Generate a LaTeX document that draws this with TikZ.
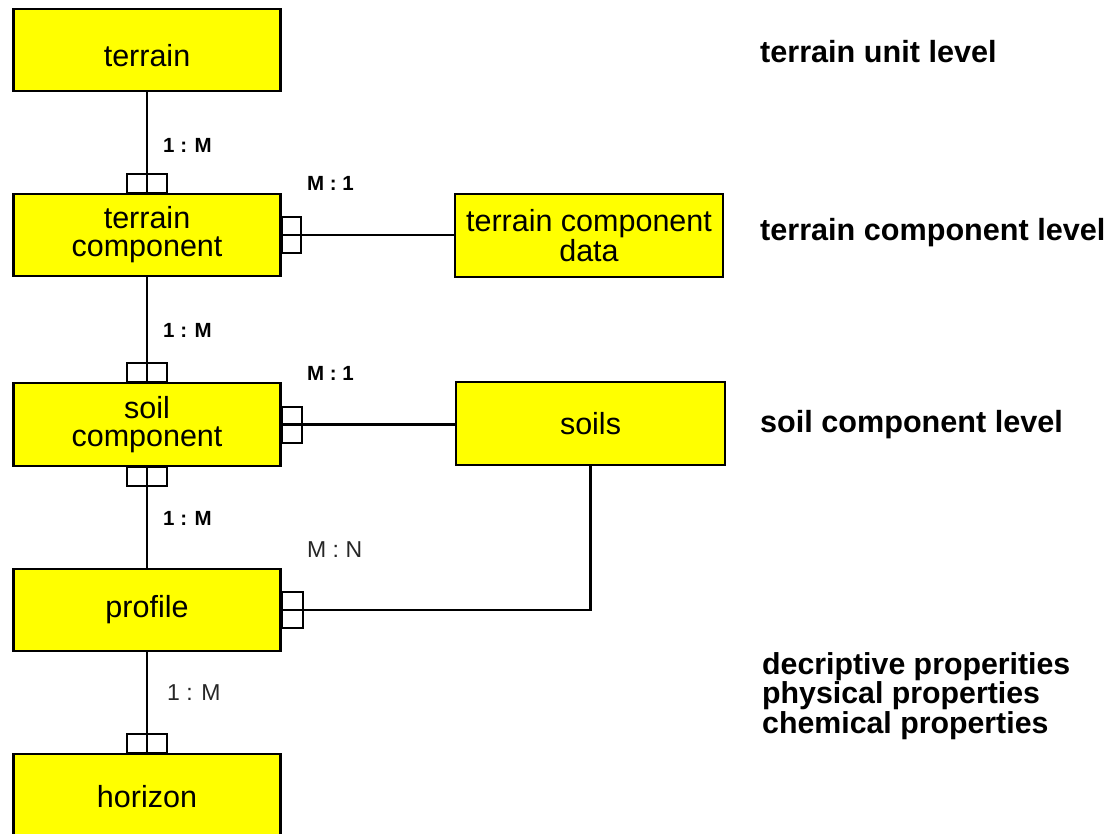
\documentclass[tikz,border=0pt]{standalone}
\usepackage{fontspec}
\setmainfont{Liberation Sans}
\definecolor{entityfill}{RGB}{255,255,0}
\begin{document}
\begin{tikzpicture}[x=1pt,y=-1pt,
  entity/.style={draw=black, line width=2.6pt, fill=entityfill, inner sep=0pt,
    minimum width=267pt, minimum height=82pt, align=center,
    font=\fontsize{30.5}{28}\selectfont},
  link/.style={draw=black, line width=2.2pt},
  foot/.style={draw=black, line width=2pt},
  card/.style={inner sep=0pt, anchor=west, font=\bfseries\fontsize{20.5}{22}\selectfont},
  cardplain/.style={inner sep=0pt, anchor=west, font=\fontsize{23}{24}\selectfont, text=black!85},
  level/.style={inner sep=0pt, anchor=west, align=left, font=\bfseries\fontsize{30.6}{27.3}\selectfont}]
\useasboundingbox (0,0) rectangle (1113,834);

% entities
\node[entity, text height=34pt] (terrain) at (147,50) {terrain};
\node[entity] (tcomp)   at (147,235) {terrain\\component};
\node[entity, minimum width=268pt, minimum height=83pt] (tcdata) at (589,235.5) {terrain component\\data};
\node[entity, minimum height=83pt] (scomp) at (147,424.5) {soil\\component};
\node[entity, minimum width=269pt, minimum height=83pt] (soils) at (590.5,423.5) {soils};
\node[entity] (profile) at (147,610) {profile};
\node[entity, minimum height=86pt] (horizon) at (147,797) {horizon};

% relationship lines
\draw[link] (terrain.south) -- (tcomp.north);
\draw[link] (tcomp.south) -- (scomp.north);
\draw[link] (scomp.south) -- (profile.north);
\draw[link] (profile.south) -- (horizon.north);
\draw[link] (tcomp.east) -- (tcomp.east -| tcdata.west);
\draw[link] (scomp.east) -- (scomp.east -| soils.west);
\draw[link] (profile.east) -- (profile.east -| soils.south) -- (soils.south);

% "many" end markers
\draw[foot] ([xshift=-20pt]tcomp.north) rectangle ([xshift=20pt,yshift=19pt]tcomp.north);
\draw[foot] ([xshift=-20pt]scomp.north) rectangle ([xshift=20pt,yshift=19pt]scomp.north);
\draw[foot] ([xshift=-20pt]scomp.south) rectangle ([xshift=20pt,yshift=-19pt]scomp.south);
\draw[foot] ([xshift=-20pt]horizon.north) rectangle ([xshift=20pt,yshift=19pt]horizon.north);
\draw[foot] ([yshift=18pt]tcomp.east) rectangle ([xshift=19pt,yshift=-18pt]tcomp.east);
\draw[foot] ([yshift=18pt]scomp.east) rectangle ([xshift=20pt,yshift=-18pt]scomp.east);
\draw[foot] ([yshift=18pt]profile.east) rectangle ([xshift=21pt,yshift=-18pt]profile.east);

% cardinalities
\node[card] (c1) at (163,145) {1 : M};
\node[card] (c2) at (307,183) {M : 1};
\node[card] (c3) at (163,330) {1 : M};
\node[card] (c4) at (307,373) {M : 1};
\node[card] (c5) at (163,518) {1 : M};
\node[cardplain] (c6) at (307,550) {M : N};
\node[cardplain] (c7) at (167,693) {1 : M};

% level captions
\node[level] (l1) at (760,52) {terrain unit level};
\node[level] (l2) at (760,233) {terrain component level};
\node[level] (l3) at (760,425) {soil component level};
\node[level, font=\bfseries\fontsize{30.3}{27.3}\selectfont] (l4) at (762,696) {decriptive properities\\physical properties\\chemical properties};
\end{tikzpicture}
\end{document}
